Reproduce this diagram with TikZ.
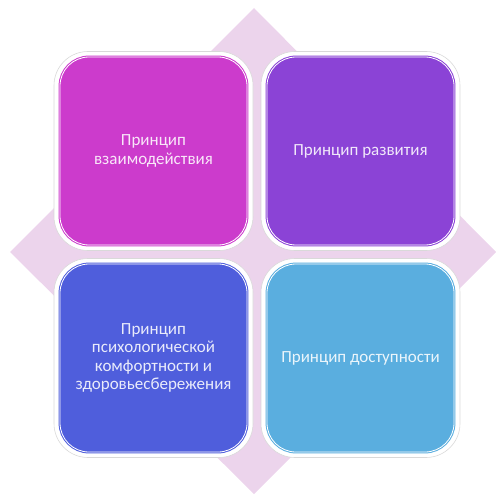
\documentclass[tikz,border=0pt]{standalone}
\usepackage{fontspec}
\setmainfont{Carlito}
\usetikzlibrary{
  positioning,
}
\definecolor{diamondpink}{HTML}{ECD4EC}
\definecolor{magentabox}{HTML}{CC3BCC}
\definecolor{purplebox}{HTML}{8B43D6}
\definecolor{bluebox}{HTML}{4F5EDC}
\definecolor{skybox}{HTML}{5AAEDF}
\tikzset{
  halo/.style={draw=black!15, line width=0.6pt, fill=white,
    rounded corners=34pt, minimum size=199pt, inner sep=0pt},
  principle/.style={rounded corners=29pt, minimum width=187pt,
    minimum height=188pt, inner sep=0pt, align=center,
    line width=1pt, double=white, double distance=0.8pt,
    text=white, text opacity=0.88,
    font=\fontsize{17}{18.6}\selectfont},
}

\begin{document}
\begin{tikzpicture}[x=1pt, y=-1pt]
      \useasboundingbox (0,0) rectangle (496,495);
      % background diamond
      \fill [diamondpink] (254,8) -- (496,252) -- (254,494) -- (10,252) -- cycle;
      \node [principle, draw=magentabox, fill=magentabox] (mut) at (153.5,151) {};
      \node [principle, draw=purplebox, fill=purplebox, right=19pt of mut] (dev) {};
      \node [principle, draw=bluebox, fill=bluebox, below=18pt of mut] (psy) {};
      \node [principle, draw=skybox, fill=skybox, below=18pt of dev] (acc) {};
      \foreach \n in {mut,dev,psy,acc}
        \node [halo] (\n-halo) at (\n.center) {};
      \node [principle, draw=magentabox, fill=magentabox] at (mut.center)
        {Принцип\\взаимодействия};
      \node [principle, draw=purplebox, fill=purplebox] at (dev.center)
        {Принцип развития};
      \node [principle, draw=bluebox, fill=bluebox] at (psy.center)
        {Принцип\\психологической\\комфортности и\\здоровьесбережения};
      \node [principle, draw=skybox, fill=skybox] at (acc.center)
        {Принцип доступности};
    \end{tikzpicture}
\end{document}
